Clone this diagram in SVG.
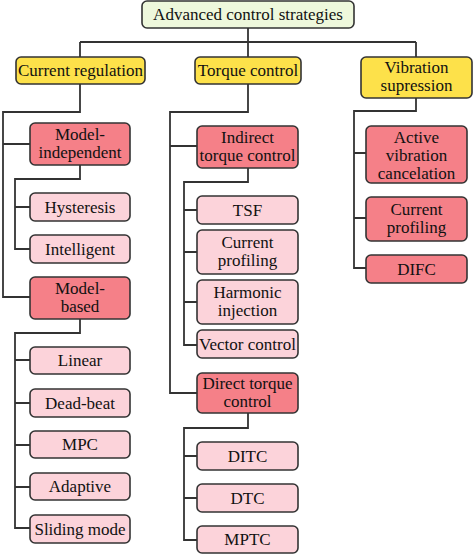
<svg xmlns="http://www.w3.org/2000/svg" width="474" height="556" viewBox="0 0 474 556">
<style>
.b{stroke:#333;stroke-width:1.6}
.r{fill:#eef8dc}
.y{fill:#fde14a}
.d{fill:#f58088}
.l{fill:#fcd3da}
text{font-family:"Liberation Serif","Times New Roman",serif;font-size:17px;fill:#111;text-anchor:middle}
.c{fill:none;stroke:#333;stroke-width:1.8}
</style>
<rect width="474" height="556" fill="#fff"/>
<g id="connectors">
<path class="c" d="M248 28V42M80 42H416M80 42V57M248 42V57M416 42V57"/>
<path class="c" d="M80 84V112H3V297H30M3 144H30"/>
<path class="c" d="M80 165V179H15V249H30M15 207H30"/>
<path class="c" d="M80 319V333H15V528H30M15 360H30M15 403H30M15 445H30M15 487H30"/>
<path class="c" d="M248 84V112H170V393H197M170 146H197"/>
<path class="c" d="M248 168V182H184V345H197M184 210H197M184 252H197M184 302H197"/>
<path class="c" d="M248 413V428H184V540H197M184 456H197M184 498H197"/>
<path class="c" d="M416 98V111H354V268H366M354 153H366M354 218H366"/>
</g>
<g id="root"><rect class="b r" x="142" y="1" width="212" height="27" rx="5"/><text x="248" y="20">Advanced control strategies</text></g>
<g id="current-regulation"><rect class="b y" x="16" y="57" width="129" height="27" rx="5"/><text x="80.5" y="76">Current regulation</text></g>
<g id="torque-control"><rect class="b y" x="195" y="57" width="106" height="27" rx="5"/><text x="248" y="76">Torque control</text></g>
<g id="vibration-supression"><rect class="b y" x="361" y="57" width="111" height="41" rx="5"/><text x="416.5" y="73">Vibration</text><text x="416.5" y="91">supression</text></g>
<g id="model-independent"><rect class="b d" x="30" y="123" width="100" height="42" rx="5"/><text x="80" y="140">Model-</text><text x="80" y="158">independent</text></g>
<g id="hysteresis"><rect class="b l" x="30" y="193" width="100" height="28" rx="5"/><text x="80" y="213">Hysteresis</text></g>
<g id="intelligent"><rect class="b l" x="30" y="235" width="100" height="28" rx="5"/><text x="80" y="255">Intelligent</text></g>
<g id="model-based"><rect class="b d" x="30" y="277" width="100" height="42" rx="5"/><text x="80" y="294">Model-</text><text x="80" y="312">based</text></g>
<g id="linear"><rect class="b l" x="30" y="347" width="100" height="27" rx="5"/><text x="80" y="366">Linear</text></g>
<g id="dead-beat"><rect class="b l" x="30" y="389" width="100" height="28" rx="5"/><text x="80" y="409">Dead-beat</text></g>
<g id="mpc"><rect class="b l" x="30" y="431" width="100" height="27" rx="5"/><text x="80" y="450">MPC</text></g>
<g id="adaptive"><rect class="b l" x="30" y="473" width="100" height="27" rx="5"/><text x="80" y="492">Adaptive</text></g>
<g id="sliding-mode"><rect class="b l" x="30" y="515" width="100" height="28" rx="5"/><text x="80" y="535">Sliding mode</text></g>
<g id="indirect-torque-control"><rect class="b d" x="197" y="126" width="101" height="42" rx="5"/><text x="247.5" y="143">Indirect</text><text x="247.5" y="161">torque control</text></g>
<g id="tsf"><rect class="b l" x="197" y="196" width="101" height="28" rx="5"/><text x="247.5" y="216">TSF</text></g>
<g id="current-profiling-1"><rect class="b l" x="197" y="230" width="101" height="44" rx="5"/><text x="247.5" y="248">Current</text><text x="247.5" y="266">profiling</text></g>
<g id="harmonic-injection"><rect class="b l" x="197" y="280" width="101" height="44" rx="5"/><text x="247.5" y="298">Harmonic</text><text x="247.5" y="316">injection</text></g>
<g id="vector-control"><rect class="b l" x="197" y="330" width="101" height="28" rx="5"/><text x="247.5" y="350">Vector control</text></g>
<g id="direct-torque-control"><rect class="b d" x="197" y="373" width="101" height="40" rx="5"/><text x="247.5" y="389">Direct torque</text><text x="247.5" y="407">control</text></g>
<g id="ditc"><rect class="b l" x="197" y="442" width="101" height="28" rx="5"/><text x="247.5" y="462">DITC</text></g>
<g id="dtc"><rect class="b l" x="197" y="484" width="101" height="28" rx="5"/><text x="247.5" y="504">DTC</text></g>
<g id="mptc"><rect class="b l" x="197" y="526" width="101" height="27" rx="5"/><text x="247.5" y="545">MPTC</text></g>
<g id="active-vibration-cancelation"><rect class="b d" x="366" y="126" width="101" height="57" rx="5"/><text x="416.5" y="143">Active</text><text x="416.5" y="161">vibration</text><text x="416.5" y="179">cancelation</text></g>
<g id="current-profiling-2"><rect class="b d" x="366" y="197" width="101" height="44" rx="5"/><text x="416.5" y="215">Current</text><text x="416.5" y="233">profiling</text></g>
<g id="difc"><rect class="b d" x="366" y="255" width="101" height="28" rx="5"/><text x="416.5" y="275">DIFC</text></g>
</svg>
